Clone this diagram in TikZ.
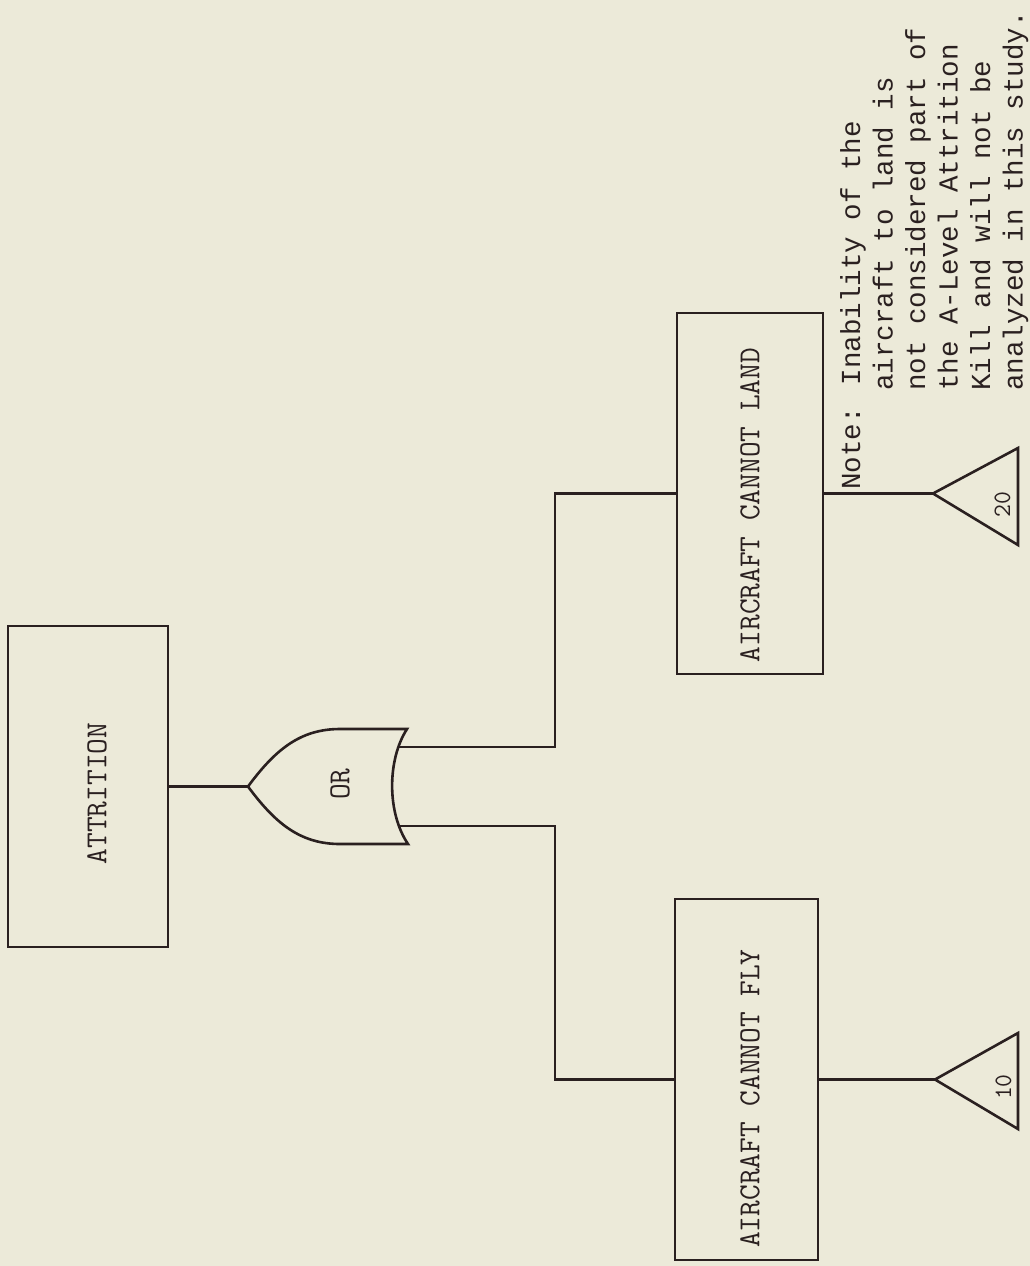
\documentclass[tikz,border=0pt]{standalone}
\usepackage{fontspec}
\newfontfamily\notefont{Liberation Mono}
\definecolor{paper}{RGB}{236,234,217}
\definecolor{ink}{RGB}{42,32,32}
\begin{document}
\begin{tikzpicture}[x=1pt,y=-1pt,
  ln/.style={line width=2.6pt, draw=ink},
  evbox/.style={ln, rectangle, inner sep=0pt},
  lbl/.style={font=\fontsize{30.5}{36}\selectfont\ttfamily, inner sep=0pt, text=ink, rotate=90},
  num/.style={font=\fontsize{25}{30}\selectfont\ttfamily, inner sep=0pt, text=ink, rotate=90},
  notetxt/.style={font=\fontsize{27.5}{33}\selectfont\notefont, inner sep=0pt, text=ink, rotate=90, anchor=base west}]
\useasboundingbox (0,0) rectangle (1030,1266);
\fill[paper] (0,0) rectangle (1030,1266);

% event boxes
\node[evbox, minimum width=160pt, minimum height=321pt] (attr) at (88,786.5) {};
\node[lbl] (attrt) at (97,793.5) {ATTRITION};
\node[evbox, minimum width=146pt, minimum height=361pt] (land) at (750,493.5) {};
\node[lbl] (landt) at (750,505) {AIRCRAFT CANNOT LAND};
\node[evbox, minimum width=143pt, minimum height=361pt] (fly) at (746.5,1079.5) {};
\node[lbl] (flyt) at (750,1098.5) {AIRCRAFT CANNOT FLY};

% OR gate
\coordinate (gtip) at (248,786.5);
\draw[ln] (gtip) .. controls (275,750) and (300,729) .. (340,729) -- (407,729)
  .. controls (387,760) and (387,813) .. (408,844) -- (340,844)
  .. controls (300,844) and (275,823) .. (gtip) -- cycle;
\node[lbl] (ort) at (340,784) {OR};
\coordinate (go1) at (399,747);
\coordinate (go2) at (399,826);
\coordinate (k1) at (555,747);
\coordinate (k2) at (555,826);

% connectors
\draw[ln] (attr.east) -- (gtip);
\draw[ln] (go1) -- (k1) |- (land.west);
\draw[ln] (go2) -- (k2) |- (fly.west);

% transfer triangles
\coordinate (t20) at (933,493.5);
\draw[ln] (t20) -- (1018,448) -- (1018,545) -- cycle;
\node[num] (n20) at (1002.5,504.5) {20};
\draw[ln] (land.east) -- (t20);
\coordinate (t10) at (935,1079.5);
\draw[ln] (t10) -- (1018,1033) -- (1018,1129) -- cycle;
\node[num] (n10) at (1003.5,1087) {10};
\draw[ln] (fly.east) -- (t10);

% note
\node[notetxt] (nt1) at (860,490) {Note: Inability of the};
\node[notetxt] (nt2) at (892.5,391) {aircraft to land is};
\node[notetxt] (nt3) at (925,391) {not considered part of};
\node[notetxt] (nt4) at (957.5,391) {the A-Level Attrition};
\node[notetxt] (nt5) at (990,391) {Kill and will not be};
\node[notetxt] (nt6) at (1022.5,391) {analyzed in this study.};
\end{tikzpicture}
\end{document}
